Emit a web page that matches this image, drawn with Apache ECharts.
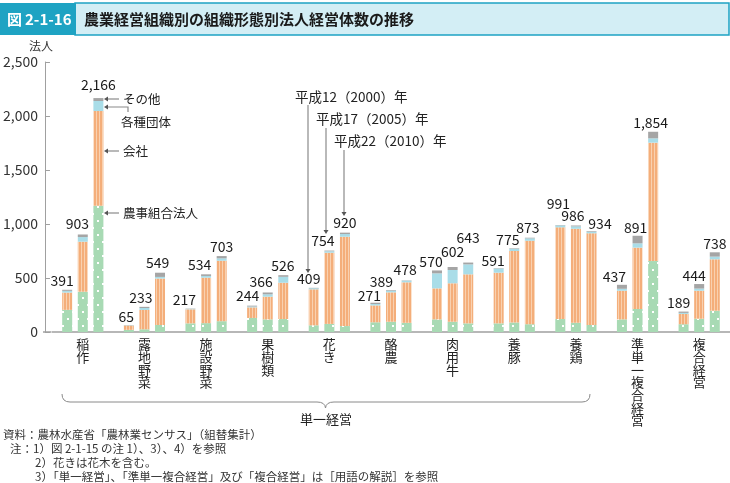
<!DOCTYPE html>
<html><head><meta charset="utf-8">
<script src="https://cdn.jsdelivr.net/npm/echarts/dist/echarts.min.js"></script>
<style>html,body{margin:0;padding:0;background:#fff}#c{width:730px;height:483px}</style>
</head><body><div id="c"></div>
<script>
const categories = ['稲作','露地野菜','施設野菜','果樹類','花き','酪農','肉用牛','養豚','養鶏','準単一複合経営','複合経営'];
const yearLabels = ['平成12（2000）年','平成17（2005）年','平成22（2010）年'];
const partNames = ['農事組合法人','会社','各種団体','その他'];
const yTicks = [0, 500, 1000, 1500, 2000, 2500];

const nouji2000  = [205, 20, 80,130, 62, 90,117, 80,120,117, 72];
const kaisha2000 = [160, 40,130, 98,333,156,287,469,849,265, 95];
const dantai2000 = [ 16,  3,  4,  8, 10, 13,139, 38, 18, 18, 10];
const sonota2000 = [ 10,  2,  3,  8,  4, 12, 27,  4,  4, 37, 12];
const total2000  = [391, 65,217,244,409,271,570,591,991,437,189];

const nouji2005  = [373, 25, 82,117, 75, 95, 95, 88, 86,213,123];
const kaisha2005 = [463,179,421,210,659,272,356,662,870,568,259];
const dantai2005 = [ 43, 18, 16, 22, 14, 16,123, 20, 22, 40, 20];
const sonota2005 = [ 24, 11, 15, 17,  6,  6, 28,  5,  8, 70, 42];
const total2005  = [903,233,534,366,754,389,602,775,986,891,444];

const nouji2010  = [1169, 65,100,120, 55, 85, 80, 72, 65, 657,197];
const kaisha2010 = [ 877,430,560,336,827,375,454,773,849,1096,476];
const dantai2010 = [  93, 15, 22, 55, 25, 15, 92, 22, 14,  40, 25];
const sonota2010 = [  27, 39, 21, 15, 13,  3, 17,  6,  6,  61, 40];
const total2010  = [2166,549,703,526,920,478,643,873,934,1854,738];

// label nudges (style only): [dx, dy] per category, per year
const labelShift2000 = [[-5,0],[-2.5,1.5],[-6,1],[-4.5,0],[-5,0],[-6,2],[-6,1],[-5.5,2],[-2,-12],[-7.5,1],[-5,1]];
const labelShift2005 = [[-5.5,-1.5],[-3.5,0],[-6.5,0],[-6.5,-1],[-6.5,0],[-9.5,1],[0,-6],[-6.5,1],[-3,0],[-2,1],[-5,1]];
const labelShift2010 = [[0,-4],[-2.5,-1],[0,0],[-0.5,0],[0,0],[-1.5,-1],[0,-15],[-2,-1],[8.5,2],[-2.5,0],[0,1]];

const FONT = '"Noto Sans CJK JP", "Noto Sans", sans-serif';

function makePattern(w, h, bg, draw) {
  const c = document.createElement('canvas');
  c.width = w; c.height = h;
  const g = c.getContext('2d');
  g.fillStyle = bg; g.fillRect(0, 0, w, h);
  draw(g);
  return { image: c, repeat: 'repeat' };
}
const greenFill = makePattern(10, 14, '#a8dab4', g => {
  g.fillStyle = '#ffffff';
  g.fillRect(2, 3, 2, 2);
  g.fillRect(7, 10, 2, 2);
});
const orangeFill = makePattern(3, 4, '#f4ae7a', g => {
  g.fillStyle = '#f9d1b0';
  g.fillRect(0, 0, 1, 4);
});
const partColors = [greenFill, orangeFill, '#a9dde8', '#a5a5a5'];

const yearData = [
  [nouji2000, kaisha2000, dantai2000, sonota2000, total2000, labelShift2000],
  [nouji2005, kaisha2005, dantai2005, sonota2005, total2005, labelShift2005],
  [nouji2010, kaisha2010, dantai2010, sonota2010, total2010, labelShift2010]
];

const series = [];
yearData.forEach((yd, yi) => {
  for (let p = 0; p < 4; p++) {
    const s = {
      name: partNames[p] + yi,
      type: 'bar',
      stack: 'y' + yi,
      barWidth: 10,
      barGap: '56%',
      data: p === 3 ? yd[p].map((v, i) => ({ value: v, label: { offset: yd[5][i] } })) : yd[p],
      itemStyle: { color: partColors[p] },
      emphasis: { disabled: true }
    };
    if (p === 3) {
      s.label = {
        show: true, position: 'top', distance: 2.5,
        fontSize: 14, color: '#1a1a1a', fontFamily: FONT,
        formatter: pr => yd[4][pr.dataIndex].toLocaleString('en-US')
      };
    }
    series.push(s);
  }
});

const LINE = { stroke: '#8a8a8a', lineWidth: 1.2, fill: 'none' };
function arrowDown(x, y1, y2) {
  return [
    { type: 'line', shape: { x1: x, y1: y1, x2: x, y2: y2 - 3 }, style: LINE },
    { type: 'polygon', shape: { points: [[x - 2.5, y2 - 4], [x + 2.5, y2 - 4], [x, y2]] }, style: { fill: '#555' } }
  ];
}
function arrowLeft(points) {
  const tip = points[points.length - 1];
  return [
    { type: 'polyline', shape: { points: points.slice(0, -1).concat([[tip[0] + 3, tip[1]]]) }, style: LINE },
    { type: 'polygon', shape: { points: [[tip[0] + 4, tip[1] - 2.5], [tip[0] + 4, tip[1] + 2.5], [tip[0], tip[1]]] }, style: { fill: '#555' } }
  ];
}
function txt(x, y, text, size, extra) {
  return { type: 'text', x: x, y: y, style: Object.assign({ text: text, fontSize: size, fontFamily: FONT, fill: '#222', verticalAlign: 'middle' }, extra || {}) };
}
function curve(x1, y1, cx, cy, x2, y2) {
  return { type: 'bezierCurve', shape: { x1: x1, y1: y1, x2: x2, y2: y2, cpx1: cx, cpy1: cy }, style: { stroke: '#8a8a8a', lineWidth: 1, fill: 'none' } };
}
function seg(x1, y1, x2, y2, w) {
  return { type: 'line', shape: { x1: x1, y1: y1, x2: x2, y2: y2 }, style: { stroke: '#8a8a8a', lineWidth: w || 1 } };
}

const graphics = [
  { type: 'rect', shape: { x: 75, y: 3, width: 654, height: 32 }, style: { fill: '#d3eef5', stroke: '#1ea3c3', lineWidth: 1.5 } },
  { type: 'rect', shape: { x: 0, y: 3, width: 76, height: 32 }, style: { fill: '#1ea3c3' } },
  txt(7, 19.5, '図', 15, { fill: '#fff', fontWeight: 'bold' }),
  txt(25, 19.5, '2-1-16', 15, { fill: '#fff', fontWeight: 'bold' }),
  txt(84, 19.5, '農業経営組織別の組織形態別法人経営体数の推移', 15, { fill: '#1a1a1a', fontWeight: 'bold' }),
  txt(29, 46, '法人', 12, { fill: '#333' }),
  { type: 'line', shape: { x1: 43, y1: 332, x2: 51, y2: 332 }, style: { stroke: '#a0a0a0', lineWidth: 1.5 } },
  txt(295, 97, yearLabels[0], 13.5),
  txt(316, 119, yearLabels[1], 13.5),
  txt(334, 141, yearLabels[2], 13.5),
  ...arrowDown(308, 105, 273),
  ...arrowDown(326, 128, 234),
  ...arrowDown(344, 150, 216),
  txt(123, 99, partNames[3], 12.5),
  txt(121, 122, partNames[2], 12.5),
  txt(123, 151, partNames[1], 12.5),
  txt(123, 213, partNames[0], 12.5),
  ...arrowLeft([[119, 99], [104, 99]]),
  ...arrowLeft([[128, 112], [128, 107], [104, 107]]),
  ...arrowLeft([[119, 151], [104, 151]]),
  ...arrowLeft([[119, 213], [104, 213]]),
  curve(62, 394, 62, 402, 70, 402),
  seg(70, 402, 317, 402),
  curve(317, 402, 325, 402, 325.5, 408),
  curve(325.5, 408, 326, 402, 334, 402),
  seg(334, 402, 582, 402),
  curve(582, 402, 590, 402, 590, 394),
  txt(326, 419, '単一経営', 13, { align: 'center' }),
  txt(3, 435, '資料：農林水産省「農林業センサス」（組替集計）', 11.5, { fill: '#333' }),
  txt(10, 449, '注：1）図 2-1-15 の注 1）、3）、4）を参照', 11.5, { fill: '#333' }),
  txt(35, 463, '2）花きは花木を含む。', 11.5, { fill: '#333' }),
  txt(35, 476.5, '3）「単一経営」、「準単一複合経営」及び「複合経営」は［用語の解説］を参照', 11.5, { fill: '#333' })
];

const chart = echarts.init(document.getElementById('c'), null, { renderer: 'canvas' });
chart.setOption({
  animation: false,
  backgroundColor: '#fff',
  grid: { left: 50, top: 62, width: 681, height: 270, containLabel: false },
  xAxis: {
    type: 'category', data: categories,
    axisLine: { lineStyle: { color: '#a0a0a0', width: 1.5 } },
    axisTick: { show: false },
    axisLabel: {
      interval: 0, margin: 6, fontSize: 13, lineHeight: 12.7, color: '#222', fontFamily: FONT,
      verticalAlign: 'top',
      formatter: v => v.split('').join('\n')
    }
  },
  yAxis: {
    type: 'value', min: yTicks[0], max: yTicks[yTicks.length - 1], interval: 500,
    offset: 7,
    axisLine: { show: true, lineStyle: { color: '#a0a0a0', width: 1 } },
    axisTick: { show: true, inside: true, length: 5, lineStyle: { color: '#a0a0a0' } },
    splitLine: { show: false },
    axisLabel: { margin: 7, fontSize: 14, color: '#333', fontFamily: FONT, formatter: v => v.toLocaleString('en-US') }
  },
  series: series,
  graphic: graphics
});
</script>
</body></html>
